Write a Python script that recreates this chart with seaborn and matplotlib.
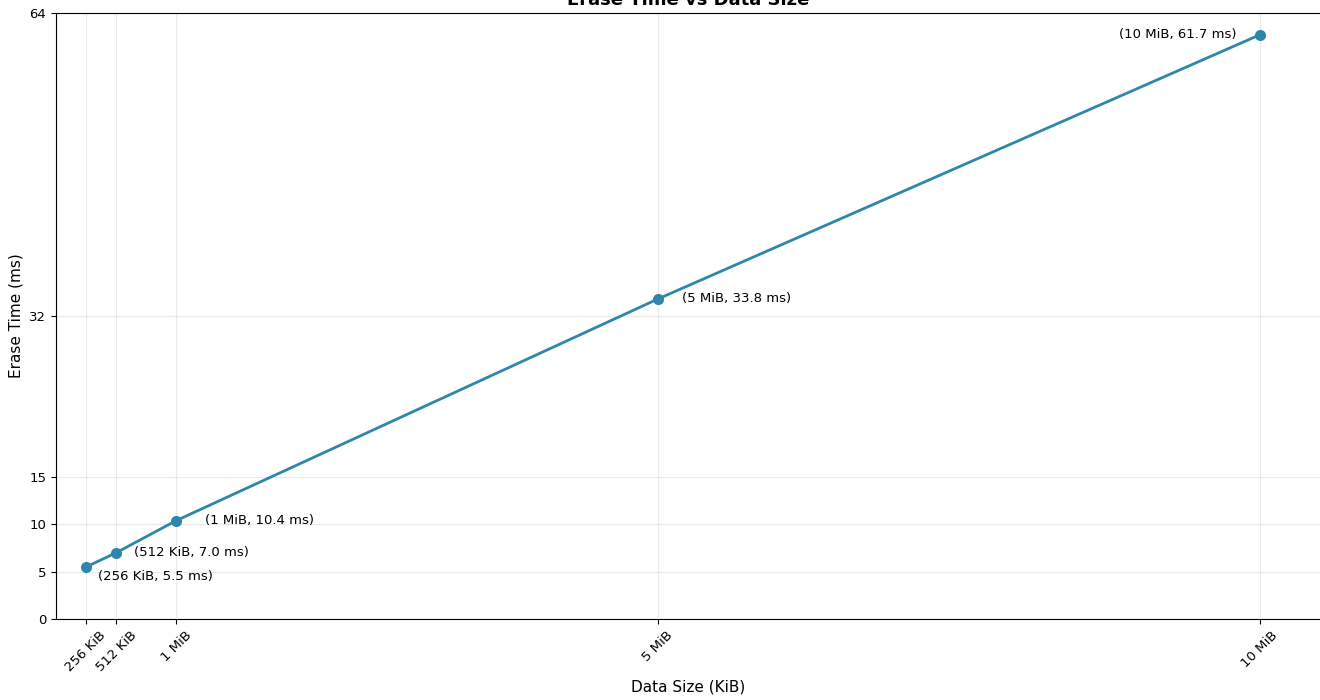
import matplotlib
matplotlib.use("Agg")
import matplotlib.pyplot as plt
import seaborn as sns
import pandas as pd

# Datos
sizes_kib = [256, 512, 1024, 5120, 10240]
erase_ms = [5.5, 7.0, 10.4, 33.8, 61.7]
size_labels = ['256 KiB', '512 KiB', '1 MiB', '5 MiB', '10 MiB']
y_ticks = [0, 5, 10, 15, 32, 64]

df = pd.DataFrame({'size': sizes_kib, 'time': erase_ms, 'label': size_labels})

sns.set_style("ticks")
plt.rcParams['font.family'] = ['DejaVu Sans']
plt.rcParams.update({'text.color': 'black', 'axes.labelcolor': 'black',
                     'xtick.color': 'black', 'ytick.color': 'black',
                     'axes.edgecolor': 'black'})

fig = plt.figure(figsize=(13.2, 7), dpi=100)
ax = fig.add_axes([56 / 1320, 81 / 700, 1265 / 1320, 606 / 700])

sns.lineplot(data=df, x='size', y='time', ax=ax, color='#2E86AB', linewidth=2,
             marker='o', markersize=8, markeredgewidth=0)

# Etiquetas de cada punto (desplazamiento en pixeles)
offsets = [(12, -10, 'left'), (18, 0, 'left'), (29, 0, 'left'), (24, 0, 'left'), (-23, 0, 'right')]
for (s, t, lab), (dx, dy, ha) in zip(zip(sizes_kib, erase_ms, size_labels), offsets):
    ax.annotate(f'({lab}, {t:.1f} ms)', xy=(s, t), xytext=(dx * 0.72, dy * 0.72),
                textcoords='offset points', ha=ha, va='center', fontsize=9.5)

ax.set_xlim(0, 10760)
ax.set_ylim(0, 64)
ax.set_xticks(sizes_kib)
ax.set_xticklabels(size_labels, rotation=45, fontsize=9.5)
ax.set_yticks(y_ticks)
ax.tick_params(axis='y', labelsize=9.5)
ax.grid(True, alpha=0.4)

ax.set_title('Erase Time vs Data Size', fontsize=13, fontweight='bold')
ax.set_xlabel('Data Size (KiB)', fontsize=11)
ax.set_ylabel('Erase Time (ms)', fontsize=11)

# el borde derecho queda fuera de la imagen en el original
ax.spines['right'].set_visible(False)

fig.savefig('out.png', dpi=100)
